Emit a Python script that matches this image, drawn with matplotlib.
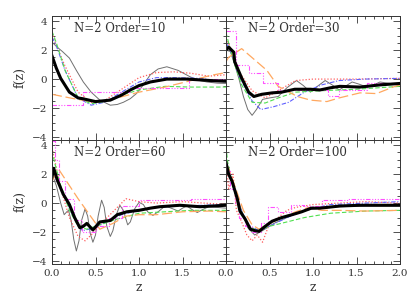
import matplotlib
matplotlib.use("Agg")
import matplotlib.pyplot as plt
from matplotlib.ticker import MultipleLocator

plt.rcParams['font.family'] = ['DejaVu Serif']

orders = [10, 30, 60, 100]

# ---- Order = 10 ----
z10_black = [0, 0.05, 0.1, 0.2, 0.3, 0.35, 0.5, 0.67, 0.8, 0.9, 1.0, 1.13, 1.32, 1.55, 1.82, 2.0]
f10_black = [1.6, 0.75, 0.05, -0.9, -1.3, -1.35, -1.55, -1.45, -1.1, -0.75, -0.45, -0.2, 0.0, 0.0, -0.1, -0.15]
z10_gray = [0, 0.06, 0.12, 0.2, 0.28, 0.36, 0.45, 0.55, 0.67, 0.75, 0.82, 0.9, 0.97, 1.05, 1.13, 1.22, 1.32,
            1.45, 1.59, 1.7, 1.78, 1.9, 2.0]
f10_gray = [2.55, 2.2, 1.9, 1.45, 0.6, -0.2, -0.9, -1.45, -1.8, -1.75, -1.6, -1.35, -1.0, -0.4, 0.3, 0.7, 0.85,
            0.6, 0.15, -0.1, -0.2, -0.28, -0.3]
z10_red = [0, 0.05, 0.15, 0.3, 0.45, 0.6, 0.8, 1.0, 1.2, 1.4, 1.6, 1.8, 2.0]
f10_red = [3.2, 2.3, 0.9, -0.9, -1.6, -1.5, -0.7, 0.1, 0.45, 0.5, 0.4, 0.2, 0.3]
z10_blue = [0, 0.05, 0.15, 0.3, 0.45, 0.6, 0.8, 1.0, 1.2, 1.4, 1.7, 2.0]
f10_blue = [2.9, 2.3, 0.6, -1.3, -1.8, -1.6, -0.9, -0.2, 0.1, 0.1, 0.05, -0.2]
z10_green = [0, 0.05, 0.15, 0.3, 0.45, 0.6, 0.8, 1.0, 1.3, 1.6, 2.0]
f10_green = [3.3, 2.5, 0.6, -1.3, -1.7, -1.55, -1.1, -0.75, -0.5, -0.55, -0.55]
z10_orange = [0, 0.25, 0.5, 0.75, 1.0, 1.3, 1.6, 1.82, 2.0]
f10_orange = [-1.05, -1.35, -1.6, -1.3, -0.9, -0.55, -0.1, 0.25, 0.45]
z10_mag = [0, 0.36, 0.9, 1.57, 2.0]
f10_mag = [-1.8, -0.9, -0.6, 0.0, 0.0]

# ---- Order = 30 ----
z30_black = [0, 0.03, 0.09, 0.1, 0.18, 0.26, 0.32, 0.41, 0.53, 0.64, 0.79, 0.97, 1.08, 1.2, 1.31, 1.54, 1.77, 2.0]
f30_black = [2.0, 2.2, 1.85, 1.2, 0.07, -0.9, -1.2, -1.05, -0.95, -0.9, -0.7, -0.7, -0.75, -0.6, -0.5, -0.55, -0.4, -0.3]
z30_gray = [0, 0.05, 0.1, 0.15, 0.2, 0.25, 0.3, 0.35, 0.42, 0.5, 0.6, 0.7, 0.81, 0.89, 0.97, 1.05, 1.14, 1.22,
            1.3, 1.37, 1.45, 1.53, 1.62, 1.7, 1.77, 1.88, 2.0]
f30_gray = [2.0, 1.9, 1.0, 0.0, -1.2, -2.1, -2.5, -2.1, -1.4, -1.3, -1.2, -0.6, -0.1, -0.45, -0.9, -0.5, -0.1, -0.4,
            -0.75, -0.5, -0.2, -0.35, -0.55, -0.4, -0.2, -0.3, -0.4]
z30_red = [0, 0.05, 0.15, 0.3, 0.45, 0.6, 0.8, 1.0, 1.5, 2.0]
f30_red = [2.8, 2.2, 0.5, -0.8, -1.3, -0.8, -0.1, 0.0, 0.0, 0.05]
z30_blue = [0, 0.05, 0.15, 0.3, 0.4, 0.55, 0.72, 0.9, 1.1, 1.3, 1.6, 2.0]
f30_blue = [2.5, 2.0, 0.2, -1.5, -2.1, -1.9, -1.6, -0.9, -0.4, -0.1, 0.0, 0.05]
z30_green = [0, 0.03, 0.1, 0.18, 0.3, 0.45, 0.6, 0.8, 1.1, 1.5, 2.0]
f30_green = [3.2, 2.5, 1.0, -0.4, -1.6, -1.65, -1.3, -0.9, -0.8, -0.7, -0.5]
z30_orange = [0, 0.03, 0.18, 0.47, 0.6, 0.82, 0.97, 1.16, 1.3, 1.54, 1.73, 1.92, 2.0]
f30_orange = [1.2, 1.5, 2.1, 0.6, -0.5, -1.2, -1.45, -1.55, -1.3, -0.95, -1.0, -0.55, -0.4]
z30_mag = [0, 0.12, 0.27, 0.43, 0.6, 1.17, 1.3, 1.62, 2.0]
f30_mag = [3.3, 1.0, 0.4, -0.3, -0.75, -1.2, -0.75, -0.3, -0.3]

# ---- Order = 60 ----
z60_black = [0, 0.02, 0.06, 0.13, 0.2, 0.26, 0.32, 0.36, 0.4, 0.47, 0.55, 0.67, 0.75, 0.86, 1.0, 1.13, 1.24, 1.47, 1.7, 2.0]
f60_black = [1.8, 2.4, 1.6, 0.6, -0.1, -1.0, -1.7, -1.6, -1.4, -1.85, -1.3, -1.2, -0.8, -0.6, -0.5, -0.35, -0.25, -0.15, -0.25, -0.15]
z60_gray = [0, 0.05, 0.1, 0.14, 0.17, 0.19, 0.22, 0.25, 0.28, 0.31, 0.34, 0.38, 0.41, 0.44, 0.47, 0.5, 0.53, 0.57,
            0.6, 0.63, 0.67, 0.7, 0.74, 0.78, 0.82, 0.87, 0.9, 0.95, 1.0, 1.05, 1.1, 1.16, 1.22, 1.3, 1.37, 1.45,
            1.5, 1.55, 1.61, 1.67, 1.73, 1.8, 1.9, 2.0]
f60_gray = [2.0, 1.2, 0.0, -0.8, -0.6, -0.5, -1.2, -2.5, -3.3, -2.6, -1.2, -0.4, -0.9, -2.1, -2.7, -2.2, -0.9, 0.2,
            -0.3, -1.6, -2.3, -1.9, -0.8, -0.15, -0.5, -1.5, -1.3, -0.4, 0.05, -0.1, -0.6, -0.85, -0.6, -0.2, -0.35, -0.55,
            -0.35, -0.2, -0.45, -0.65, -0.45, -0.25, -0.3, -0.35]
z60_red = [0, 0.03, 0.1, 0.2, 0.3, 0.38, 0.45, 0.55, 0.7, 0.85, 1.0, 1.2, 1.5, 2.0]
f60_red = [3.8, 3.0, 1.0, -1.0, -2.3, -2.6, -2.2, -1.5, -0.6, 0.3, 0.1, 0.0, 0.1, -0.1]
z60_blue = [0, 0.05, 0.15, 0.25, 0.35, 0.5, 0.65, 0.8, 1.0, 1.2, 1.5, 2.0]
f60_blue = [2.2, 1.6, 0.4, -1.0, -1.9, -1.7, -1.2, -0.8, -0.5, -0.3, -0.2, -0.1]
z60_green = [0, 0.03, 0.1, 0.2, 0.3, 0.4, 0.55, 0.75, 1.0, 1.3, 1.6, 2.0]
f60_green = [3.6, 2.8, 1.2, -0.5, -1.6, -1.8, -1.5, -1.1, -0.7, -0.6, -0.5, -0.5]
z60_orange = [0, 0.04, 0.08, 0.3, 0.55, 0.7, 0.85, 1.0, 1.2, 1.5, 1.8, 2.0]
f60_orange = [1.5, 2.0, 2.3, 0.3, -1.8, -1.4, -0.9, -0.8, -0.8, -0.6, -0.55, -0.6]
z60_mag = [0, 0.03, 0.08, 0.15, 0.25, 0.35, 0.5, 0.65, 0.8, 1.0, 1.3, 1.6, 2.0]
f60_mag = [4.3, 3.0, 1.5, 0.3, -1.2, -2.0, -1.6, -1.0, -0.2, 0.2, 0.2, 0.3, 0.3]

# ---- Order = 100 ----
z100_black = [0, 0.03, 0.07, 0.13, 0.16, 0.22, 0.28, 0.33, 0.38, 0.44, 0.53, 0.64, 0.76, 0.87, 0.98, 1.08, 1.31, 1.54, 2.0]
f100_black = [2.8, 2.0, 1.5, 0.3, -0.55, -1.1, -1.8, -1.9, -1.95, -1.65, -1.25, -1.0, -0.8, -0.6, -0.35, -0.35, -0.2, -0.15, -0.15]
z100_gray = [0, 0.05, 0.15, 0.25, 0.33, 0.42, 0.55, 0.7, 0.85, 1.0, 1.3, 1.6, 2.0]
f100_gray = [2.5, 1.7, 0.0, -1.7, -2.2, -1.9, -1.4, -1.0, -0.6, -0.4, -0.25, -0.2, -0.2]
z100_red = [0, 0.03, 0.08, 0.12, 0.18, 0.24, 0.3, 0.36, 0.42, 0.5, 0.6, 0.7, 0.8, 1.0, 1.3, 1.6, 2.0]
f100_red = [3.0, 1.0, 2.0, -0.5, -1.3, -2.2, -2.6, -2.2, -2.7, -1.4, -1.0, -0.5, -0.3, -0.1, 0.0, 0.1, 0.0]
z100_blue = [0, 0.05, 0.15, 0.25, 0.38, 0.5, 0.7, 0.9, 1.2, 1.6, 2.0]
f100_blue = [2.6, 1.8, -0.2, -1.5, -1.9, -1.6, -1.0, -0.5, -0.1, 0.0, 0.1]
z100_green = [0, 0.02, 0.08, 0.15, 0.25, 0.35, 0.5, 0.7, 0.9, 1.2, 1.6, 2.0]
f100_green = [3.9, 2.8, 1.2, -0.3, -1.5, -1.9, -1.6, -1.3, -1.0, -0.7, -0.55, -0.5]
z100_orange = [0, 0.03, 0.1, 0.2, 0.3, 0.38, 0.5, 0.65, 0.8, 0.95, 1.1, 1.3, 1.6, 2.0]
f100_orange = [2.6, 2.4, 1.2, -0.5, -1.5, -1.8, -1.4, -1.0, -0.6, -0.3, -0.5, -0.5, -0.55, -0.5]
z100_mag = [0, 0.05, 0.1, 0.15, 0.22, 0.3, 0.4, 0.48, 0.6, 0.75, 0.9, 1.1, 1.4, 2.0]
f100_mag = [2.2, 1.0, 0.0, -1.0, -1.6, -2.0, -1.4, -0.3, -0.6, -0.1, -0.2, 0.2, 0.3, 0.3]

panels = {
    10: [(z10_gray, f10_gray), (z10_red, f10_red), (z10_blue, f10_blue), (z10_green, f10_green),
         (z10_orange, f10_orange), (z10_mag, f10_mag), (z10_black, f10_black)],
    30: [(z30_gray, f30_gray), (z30_red, f30_red), (z30_blue, f30_blue), (z30_green, f30_green),
         (z30_orange, f30_orange), (z30_mag, f30_mag), (z30_black, f30_black)],
    60: [(z60_gray, f60_gray), (z60_red, f60_red), (z60_blue, f60_blue), (z60_green, f60_green),
         (z60_orange, f60_orange), (z60_mag, f60_mag), (z60_black, f60_black)],
    100: [(z100_gray, f100_gray), (z100_red, f100_red), (z100_blue, f100_blue), (z100_green, f100_green),
          (z100_orange, f100_orange), (z100_mag, f100_mag), (z100_black, f100_black)],
}

# gray, red, blue, green, orange, magenta, black
styles = [
    dict(color='#707070', lw=0.7, ls='-'),
    dict(color='#ff6060', lw=0.9, ls=(0, (1, 1.5))),
    dict(color='#6060ff', lw=0.8, ls=(0, (4, 1.5, 1, 1.5))),
    dict(color='#50e050', lw=0.8, ls=(0, (4, 2))),
    dict(color='#ffa860', lw=0.9, ls=(0, (8, 3))),
    dict(color='#ff50ff', lw=0.8, ls=(0, (4, 1.5, 1, 1.5, 1, 1.5, 1, 1.5)), drawstyle='steps-post'),
    dict(color='black', lw=2.2, ls='-'),
]

fig = plt.figure(figsize=(4.15, 2.97), dpi=100)
W, H = 415, 297
x0, xm, x1 = 52, 226, 400
y0, ym, y1 = 16, 140, 264
boxes = [
    [x0 / W, 1 - ym / H, (xm - x0) / W, (ym - y0) / H],
    [xm / W, 1 - ym / H, (x1 - xm) / W, (ym - y0) / H],
    [x0 / W, 1 - y1 / H, (xm - x0) / W, (y1 - ym) / H],
    [xm / W, 1 - y1 / H, (x1 - xm) / W, (y1 - ym) / H],
]

for i, (order, box) in enumerate(zip(orders, boxes)):
    ax = fig.add_axes(box)
    for (z, f), st in zip(panels[order], styles):
        ax.plot(z, f, **st)
    ax.set_xlim(0, 2)
    ax.set_ylim(-4.2, 4.35)
    ax.xaxis.set_major_locator(MultipleLocator(0.5))
    ax.xaxis.set_minor_locator(MultipleLocator(0.1))
    ax.yaxis.set_major_locator(MultipleLocator(2))
    ax.yaxis.set_minor_locator(MultipleLocator(0.5))
    ax.tick_params(which='both', direction='in', top=True, right=True,
                   labelsize=7.5, color='#333333', labelcolor='#333333', width=0.6)
    ax.tick_params(which='major', length=5)
    ax.tick_params(which='minor', length=2.5)
    for s in ax.spines.values():
        s.set_linewidth(0.7)
        s.set_color('#333333')
    ax.text(0.25, 3.5, 'N=2 Order=%d' % order, fontsize=8.5, color='#333333', va='center')
    if i in (0, 1):
        ax.set_xticklabels([])
    else:
        ax.set_xlabel('z', fontsize=9, color='#333333', labelpad=2)
        if i == 2:
            ax.set_xticks([0, 0.5, 1.0, 1.5])
            ax.set_xticklabels(['0.0', '0.5', '1.0', '1.5'])
        else:
            ax.set_xticks([0, 0.5, 1.0, 1.5, 2.0])
            ax.set_xticklabels(['0.0', '0.5', '1.0', '1.5', '2.0'])
    if i in (1, 3):
        ax.set_yticklabels([])
    else:
        ax.set_ylabel('f(z)', fontsize=9, color='#333333', labelpad=4)

fig.savefig('out.png', dpi=100)
